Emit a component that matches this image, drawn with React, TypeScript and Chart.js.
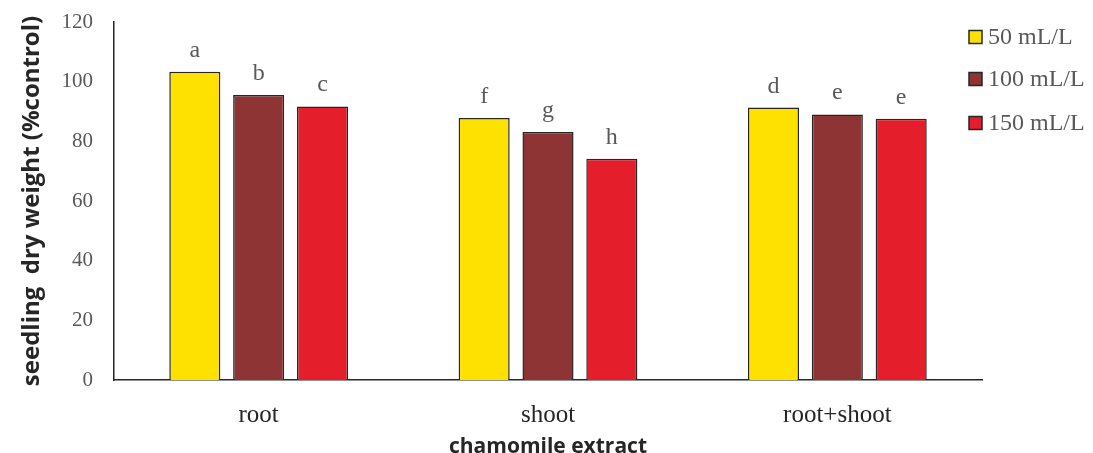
import React, { useEffect, useRef } from "react";
import { Chart, registerables } from "chart.js";

Chart.register(...registerables);

const categories = ["root", "shoot", "root+shoot"];
const seriesNames = ["50 mL/L", "100 mL/L", "150 mL/L"];
const values50 = [103.3, 87.8, 91.3];
const values100 = [95.5, 83.1, 89.0];
const values150 = [91.7, 74.2, 87.6];
const letters50 = ["a", "f", "d"];
const letters100 = ["b", "g", "e"];
const letters150 = ["c", "h", "e"];
const yTicks = [0, 20, 40, 60, 80, 100, 120];

const colors = ["#FFE100", "#8E3434", "#E41E2B"];

const letterPlugin = {
  id: "letters",
  afterDatasetsDraw(chart: any) {
    const ctx = chart.ctx;
    const lettersAll = [letters50, letters100, letters150];
    ctx.save();
    ctx.font = '24px "Liberation Serif"';
    ctx.fillStyle = "#595959";
    ctx.textAlign = "center";
    ctx.textBaseline = "alphabetic";
    chart.data.datasets.forEach((ds: any, i: number) => {
      const meta = chart.getDatasetMeta(i);
      meta.data.forEach((el: any, j: number) => {
        ctx.fillText(lettersAll[i][j], el.x, el.y - 15);
      });
    });
    ctx.restore();
  },
};

const legendPlugin = {
  id: "customLegend",
  afterDraw(chart: any) {
    const ctx = chart.ctx;
    ctx.save();
    ctx.font = '24px "Liberation Serif"';
    ctx.textBaseline = "middle";
    ctx.textAlign = "left";
    const ys = [37, 79, 123];
    chart.data.datasets.forEach((ds: any, i: number) => {
      const y = ys[i];
      ctx.fillStyle = ds.backgroundColor;
      ctx.fillRect(969, y - 6.5, 13, 13);
      ctx.strokeStyle = "#262626";
      ctx.lineWidth = 1.5;
      ctx.strokeRect(969, y - 6.5, 13, 13);
      ctx.fillStyle = "#595959";
      ctx.fillText(ds.label, 988, y + 1);
    });
    ctx.restore();
  },
};

export default function App() {
  const ref = useRef<HTMLCanvasElement>(null);
  useEffect(() => {
    if (!ref.current) return;
    const datasets = [values50, values100, values150].map((v, i) => ({
      label: seriesNames[i],
      data: v,
      backgroundColor: colors[i],
      borderColor: "#262626",
      borderWidth: 1.5,
      categoryPercentage: 0.662,
      barPercentage: 0.8,
    }));
    const chart = new Chart(ref.current, {
      type: "bar",
      data: { labels: categories, datasets },
      options: {
        responsive: false,
        animation: false,
        layout: { padding: { top: 22, right: 111, left: 0, bottom: 0 } },
        plugins: { legend: { display: false }, tooltip: { enabled: false } },
        scales: {
          x: {
            grid: { display: false },
            border: { display: true, color: "#262626", width: 1.5 },
            ticks: {
              color: "#262626",
              font: { family: "Liberation Serif", size: 25 },
              padding: 12,
            },
            title: {
              display: true,
              text: "chamomile extract",
              color: "#262626",
              font: { family: "Open Sans", size: 21, weight: "bold", lineHeight: 0.9 },
              padding: { top: 0, bottom: -3 },
            },
            afterFit(scale: any) {
              scale.height = 73;
            },
          },
          y: {
            min: 0,
            max: 120,
            afterBuildTicks(scale: any) {
              scale.ticks = yTicks.map((v) => ({ value: v }));
            },
            grid: { display: false },
            border: { display: true, color: "#262626", width: 1.5 },
            ticks: {
              color: "#595959",
              font: { family: "Liberation Serif", size: 21 },
              padding: 13,
            },
            title: {
              display: true,
              text: "seedling  dry weight (%control)",
              color: "#262626",
              font: { family: "Open Sans", size: 24, weight: "bold" },
              padding: { top: 18, bottom: 0 },
            },
            afterFit(scale: any) {
              scale.width = 114;
              scale.paddingTop = 0;
              scale.paddingBottom = 0;
            },
          },
        },
      },
      plugins: [letterPlugin, legendPlugin],
    });
    return () => chart.destroy();
  }, []);
  return (
    <div style={{ position: "fixed", left: 0, top: 0, width: 1093, height: 453, background: "#fff" }}>
      <canvas ref={ref} width={1093} height={453} style={{ width: 1093, height: 453 }} />
    </div>
  );
}
